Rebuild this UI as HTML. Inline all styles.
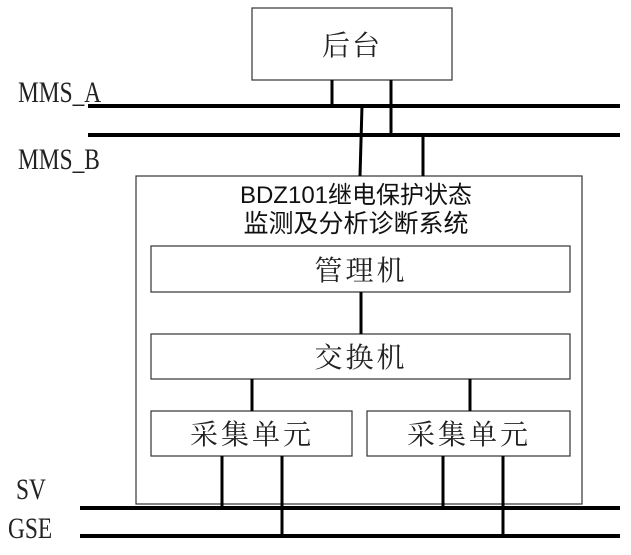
<!DOCTYPE html>
<html><head><meta charset="utf-8"><style>
html,body{margin:0;padding:0;background:#fff;}
body{width:631px;height:550px;overflow:hidden;}
</style></head><body>
<svg width="631" height="550" xmlns="http://www.w3.org/2000/svg">
<g fill="none" stroke="#333" stroke-width="1.2">
<rect x="252" y="8" width="200" height="72"/>
<rect x="136" y="176" width="446" height="328"/>
<rect x="151" y="246" width="419" height="46"/>
<rect x="151" y="334" width="419" height="45"/>
<rect x="151" y="411" width="201" height="45"/>
<rect x="367" y="411" width="203" height="45"/>
</g>
<g stroke="#000" stroke-width="4">
<line x1="88" y1="106" x2="620" y2="106"/>
<line x1="88" y1="135" x2="620" y2="135"/>
<line x1="80" y1="508" x2="620" y2="508"/>
<line x1="80" y1="536" x2="620" y2="536"/>
</g>
<g stroke="#000" stroke-width="3">
<line x1="332" y1="80" x2="332" y2="106"/>
<line x1="391" y1="80" x2="391" y2="135"/>
<line x1="362" y1="106" x2="360" y2="176"/>
<line x1="423" y1="135" x2="423" y2="176"/>
<line x1="361" y1="292" x2="361" y2="334"/>
<line x1="252" y1="379" x2="252" y2="411"/>
<line x1="470" y1="379" x2="470" y2="411"/>
<line x1="222" y1="456" x2="222" y2="508"/>
<line x1="282" y1="456" x2="282" y2="536"/>
<line x1="443" y1="456" x2="443" y2="508"/>
<line x1="503" y1="456" x2="503" y2="536"/>
</g>
<g font-family="'Liberation Sans','Noto Sans CJK SC',sans-serif" fill="#111" text-anchor="middle">
<text x="356" y="203" font-size="24">BDZ101继电保护状态</text>
<text x="356" y="232" font-size="25">监测及分析诊断系统</text>
</g>
<g font-family="'Liberation Serif','Noto Serif CJK SC',serif" fill="#222" text-anchor="middle" font-size="28">
<text x="352" y="55" letter-spacing="2">后台</text>
<text x="361" y="280" letter-spacing="3">管理机</text>
<text x="361" y="367" letter-spacing="3">交换机</text>
<text x="252" y="444" letter-spacing="3">采集单元</text>
<text x="469" y="444" letter-spacing="3">采集单元</text>
</g>
<g font-family="'Liberation Serif',serif" fill="#222" font-size="30">
<text x="18" y="102" transform="scale(0.78,1)" transform-origin="18 102">MMS_A</text>
<text x="18" y="169" transform="scale(0.78,1)" transform-origin="18 169">MMS_B</text>
<text x="16" y="499" transform="scale(0.78,1)" transform-origin="16 499">SV</text>
<text x="8" y="538" transform="scale(0.78,1)" transform-origin="8 538">GSE</text>
</g>
</svg>
</body></html>
